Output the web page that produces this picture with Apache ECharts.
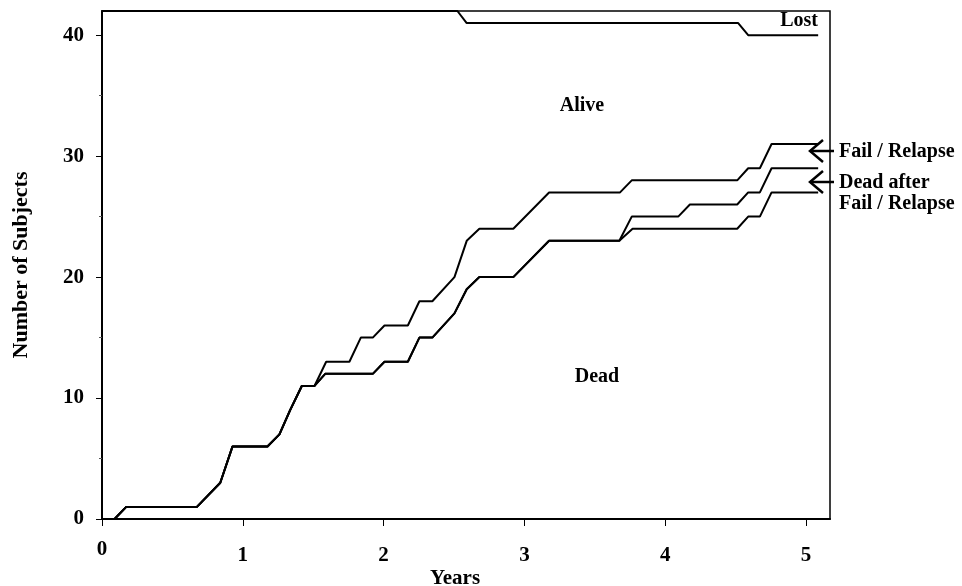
<!DOCTYPE html>
<html>
<head>
<meta charset="utf-8">
<script src="https://cdn.jsdelivr.net/npm/echarts@6/dist/echarts.min.js"></script>
<style>
html,body{margin:0;padding:0;background:#fff;}
#chart{width:962px;height:586px;}
</style>
</head>
<body>
<div id="chart"></div>
<script>
// ---- data (years, number of subjects) ----
const failYears = [0, 0.089, 0.172, 0.674, 0.840, 0.927, 1.175, 1.260, 1.336, 1.419, 1.509, 1.592, 1.757, 1.838, 1.923, 2.006, 2.172, 2.254, 2.346, 2.503, 2.590, 2.680, 2.921, 3.175, 3.679, 3.762, 4.511, 4.589, 4.672, 4.755, 5.086];
const failCounts = [0, 0, 1, 1, 3, 6, 6, 7, 9, 11, 11, 13, 13, 15, 15, 16, 16, 18, 18, 20, 23, 24, 24, 27, 27, 28, 28, 29, 29, 31, 31];

const deadAfterYears = [0, 0.089, 0.172, 0.674, 0.840, 0.927, 1.175, 1.260, 1.336, 1.419, 1.509, 1.585, 1.923, 2.006, 2.172, 2.254, 2.346, 2.503, 2.590, 2.680, 2.921, 3.175, 3.674, 3.762, 4.092, 4.175, 4.511, 4.589, 4.672, 4.755, 5.086];
const deadAfterCounts = [0, 0, 1, 1, 3, 6, 6, 7, 9, 11, 11, 12, 12, 13, 13, 15, 15, 17, 19, 20, 20, 23, 23, 25, 25, 26, 26, 27, 27, 29, 29];

const deadYears = [0, 0.089, 0.172, 0.674, 0.840, 0.927, 1.175, 1.260, 1.336, 1.419, 1.509, 1.585, 1.923, 2.006, 2.172, 2.254, 2.346, 2.503, 2.590, 2.680, 2.921, 3.175, 3.674, 3.768, 4.511, 4.589, 4.672, 4.755, 5.086];
const deadCounts = [0, 0, 1, 1, 3, 6, 6, 7, 9, 11, 11, 12, 12, 13, 13, 15, 15, 17, 19, 20, 20, 23, 23, 24, 24, 25, 25, 27, 27];

const lostYears = [0, 2.524, 2.590, 4.518, 4.589, 5.086];
const lostCounts = [42, 42, 41, 41, 40, 40];

const xTicks = [0, 1, 2, 3, 4, 5];
const yTicks = [0, 10, 20, 30, 40];
const yMinorTicks = [5, 15, 25, 35];

// ---- chart ----
const FONT = "'Liberation Serif', 'Times New Roman', serif";
const pairs = (xs, ys) => xs.map((x, i) => [x, ys[i]]);

const lineSeries = (name, xs, ys) => ({
  name: name,
  type: 'line',
  data: pairs(xs, ys),
  symbol: 'none',
  silent: true,
  clip: false,
  lineStyle: { color: '#000', width: 2 },
  z: 3
});

const label = (text, x, y, align) => ({
  type: 'text', x: x, y: y, silent: true,
  style: { text: text, fontFamily: FONT, fontWeight: 'bold', fontSize: 20, fill: '#000', textAlign: align, textVerticalAlign: 'middle' }
});

const chart = echarts.init(document.getElementById('chart'), null, { renderer: 'canvas' });

chart.setOption({
  animation: false,
  backgroundColor: '#fff',
  grid: {
    left: 102, right: 132, top: 11, bottom: 67,
    containLabel: false,
    outerBoundsMode: 'none',
    show: true, borderColor: '#000', borderWidth: 1.5, backgroundColor: 'transparent'
  },
  xAxis: {
    type: 'value',
    min: 0, max: 5.17,
    name: 'Years',
    nameLocation: 'middle',
    nameGap: 49,
    nameMoveOverlap: false,
    nameTextStyle: { fontFamily: FONT, fontWeight: 'bold', fontSize: 21, color: '#000', padding: [0, 22, 0, 0] },
    axisLine: { show: true, lineStyle: { color: '#000', width: 2 } },
    axisTick: { show: true, length: 7, customValues: xTicks, lineStyle: { color: '#000', width: 1 } },
    axisLabel: {
      customValues: xTicks, margin: 26, fontFamily: FONT, fontWeight: 'bold', fontSize: 21, color: '#000',
      formatter: v => (v === 0 ? '{z|0}' : String(v)),
      rich: { z: { fontFamily: FONT, fontWeight: 'bold', fontSize: 21, color: '#000', lineHeight: 10 } }
    },
    splitLine: { show: false }
  },
  yAxis: [{
    type: 'value',
    min: 0, max: 42,
    name: 'Number of Subjects',
    nameLocation: 'middle',
    nameGap: 70,
    nameMoveOverlap: false,
    nameTextStyle: { fontFamily: FONT, fontWeight: 'bold', fontSize: 22, color: '#000' },
    axisLine: { show: true, lineStyle: { color: '#000', width: 2 } },
    axisTick: { show: true, length: 6, customValues: yTicks, lineStyle: { color: '#000', width: 1 } },
    axisLabel: { customValues: yTicks, margin: 18, fontFamily: FONT, fontWeight: 'bold', fontSize: 21, color: '#000' },
    splitLine: { show: false }
  }, {
    type: 'value',
    min: 0, max: 42,
    position: 'left',
    axisLine: { show: false },
    axisTick: { show: true, length: 3, customValues: yMinorTicks, lineStyle: { color: '#555', width: 1 } },
    axisLabel: { show: false },
    splitLine: { show: false }
  }],
  series: [
    lineSeries('Lost', lostYears, lostCounts),
    lineSeries('Fail / Relapse', failYears, failCounts),
    lineSeries('Dead after Fail / Relapse', deadAfterYears, deadAfterCounts),
    lineSeries('Dead', deadYears, deadCounts)
  ],
  graphic: [
    label('Alive', 582, 106, 'center'),
    label('Dead', 597, 377, 'center'),
    label('Lost', 818, 21, 'right'),
    label('Fail / Relapse', 839, 152, 'left'),
    label('Dead after', 839, 183, 'left'),
    label('Fail / Relapse', 839, 204, 'left'),
    { type: 'polyline', silent: true, shape: { points: [[823, 140], [810, 151], [823, 162]] }, style: { stroke: '#000', lineWidth: 2.5, fill: null } },
    { type: 'line', silent: true, shape: { x1: 810, y1: 151, x2: 834, y2: 151 }, style: { stroke: '#000', lineWidth: 2.5 } },
    { type: 'polyline', silent: true, shape: { points: [[823, 171], [810, 182], [823, 193]] }, style: { stroke: '#000', lineWidth: 2.5, fill: null } },
    { type: 'line', silent: true, shape: { x1: 810, y1: 182, x2: 834, y2: 182 }, style: { stroke: '#000', lineWidth: 2.5 } }
  ]
});
</script>
</body>
</html>
